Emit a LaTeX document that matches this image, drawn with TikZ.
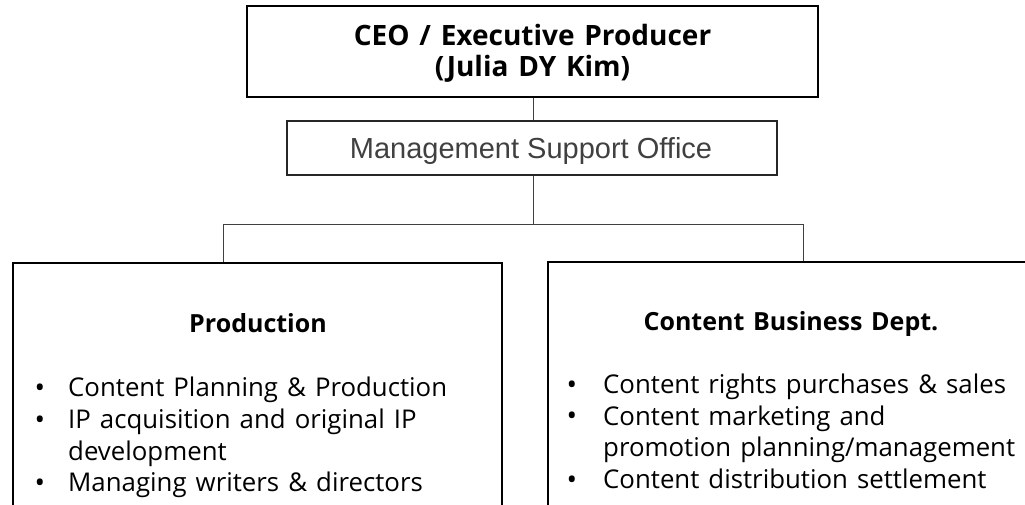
\documentclass[tikz,border=0pt]{standalone}
\usepackage{fontspec}
\setmainfont{Open Sans}[WordSpace=1.35]
\newfontfamily\arialfont{Liberation Sans}
\definecolor{msogray}{HTML}{404040}
\definecolor{linegray}{HTML}{404040}
\begin{document}
\begin{tikzpicture}[x=1pt,y=-1pt,
  ceobox/.style={draw=black,line width=2.2pt,inner sep=0pt},
  msobox/.style={draw=black!85,line width=1.2pt,inner sep=0pt},
  deptbox/.style={draw=black,line width=1.8pt,inner sep=0pt},
  conn/.style={draw=linegray,line width=1pt},
  title/.style={font=\fontsize{25}{31}\selectfont\bfseries,align=center,inner sep=0pt,anchor=base},
  ceotitle/.style={font=\fontsize{28}{31}\selectfont\bfseries,align=center,inner sep=0pt,anchor=base},
  item/.style={font=\fontsize{25.8}{31}\selectfont,inner sep=0pt,anchor=base west,align=left},
  bul/.style={font=\fontsize{28}{31}\selectfont,inner sep=0pt,anchor=base}]
\useasboundingbox (0,0) rectangle (1025,504);
\clip (0,0) rectangle (1025,504);
% boxes
\node[ceobox,minimum width=571pt,minimum height=91pt] (ceo) at (532.5,51.5) {};
\node[msobox,minimum width=490pt,minimum height=54pt] (mso) at (532,148) {};
\node[deptbox,minimum width=489pt,minimum height=280pt] (prod) at (257.5,403) {};
\node[deptbox,minimum width=486pt,minimum height=280pt] (cbd) at (791,402) {};
% texts
\node[ceotitle] (ceo1) at (532.5,45) {CEO / Executive Producer};
\node[ceotitle] (ceo2) at (532.5,76) {(Julia DY Kim)};
\node[font=\arialfont\fontsize{29}{31}\selectfont,text=msogray,inner sep=0pt,anchor=base] (msot) at (531,158) {Management Support Office};
\node[title] (prodt) at (258,332) {Production};
\node[title] (cbdt) at (791,330) {Content Business Dept.};
% production bullets
\node[bul] (pb1) at (40,397.5) {•};
\node[item] (pi1) at (68,396.7) {Content Planning \& Production};
\node[bul] (pb2) at (40,429.1) {•};
\node[item] (pi2) at (68,428.3) {IP acquisition and original IP};
\node[item] (pi2b) at (68,460) {development};
\node[bul] (pb3) at (40,492.5) {•};
\node[item] (pi3) at (68,491.7) {Managing writers \& directors};
% content business bullets
\node[bul] (cb1) at (572,394.1) {•};
\node[item] (ci1) at (603,393.3) {Content rights purchases \& sales};
\node[bul] (cb2) at (572,425.8) {•};
\node[item] (ci2) at (603,425) {Content marketing and};
\node[item] (ci2b) at (603,456.7) {promotion planning/management};
\node[bul] (cb3) at (572,489.1) {•};
\node[item] (ci3) at (603,488.3) {Content distribution settlement};
% connectors
\coordinate (jl) at (223,224);
\coordinate (jm) at (533,224);
\coordinate (jr) at (803,224);
\draw[conn] (ceo.south -| jm) -- (mso.north -| jm);
\draw[conn] (mso.south -| jm) -- (jm);
\draw[conn] (jl |- prod.north) -- (jl) -- (jr) -- (jr |- cbd.north);
\end{tikzpicture}
\end{document}
